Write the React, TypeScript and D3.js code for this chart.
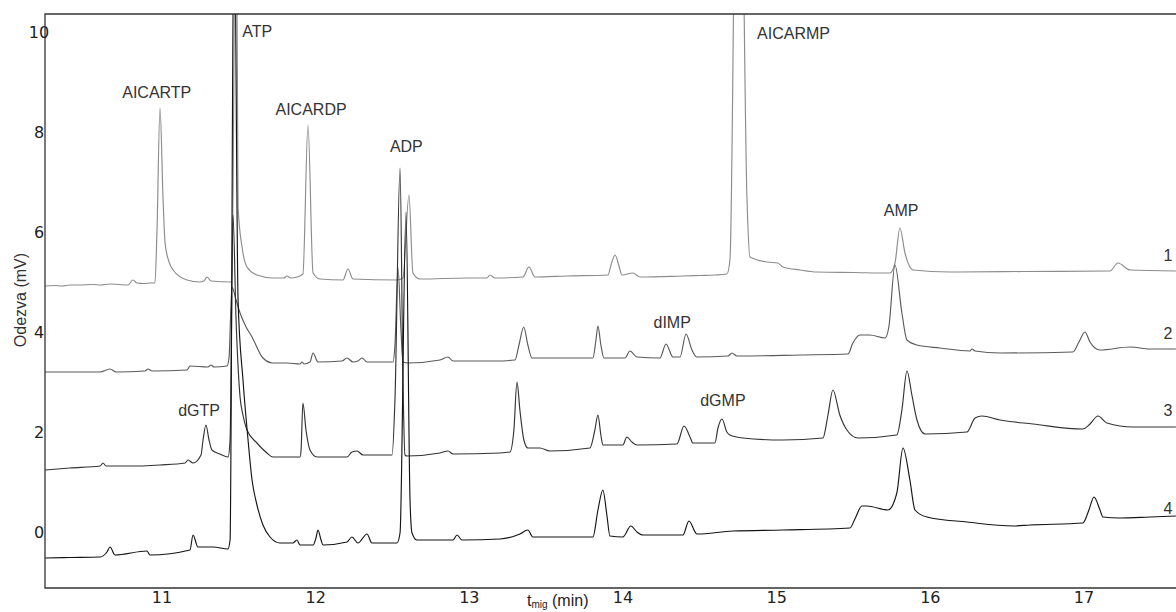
import React from "react";
import * as d3 from "d3";

type P = [number, number];

const trace1: P[] = [
  [10.239, 4.92], [10.3, 4.93], [10.35, 4.92], [10.4, 4.94], [10.466, 4.94], [10.55, 4.95], [10.6, 4.94], [10.662, 4.96], [10.72, 4.95], [10.779, 4.94], [10.811, 5.04], [10.837, 4.98],
  [10.88, 4.97], [10.92, 4.98], [10.954, 4.98], [10.967, 5.98], [10.987, 8.48], [11.007, 6.64], [11.02, 5.78], [11.046, 5.4],
  [11.072, 5.24], [11.163, 5.04], [11.247, 5.0], [11.273, 5.02], [11.293, 5.1], [11.319, 5.02], [11.455, 5.0],
  [11.482, 14], [11.495, 6.5], [11.521, 5.7], [11.553, 5.3], [11.618, 5.14], [11.722, 5.08], [11.794, 5.08],
  [11.813, 5.12], [11.839, 5.08], [11.878, 5.1], [11.917, 5.16], [11.95, 8.14], [11.983, 5.18], [12.028, 5.06],
  [12.178, 5.04], [12.21, 5.26], [12.243, 5.06], [12.529, 5.04], [12.568, 5.08], [12.607, 6.74], [12.633, 5.18],
  [12.679, 5.06], [12.985, 5.08], [13.115, 5.08], [13.134, 5.14], [13.167, 5.08], [13.349, 5.1], [13.388, 5.3],
  [13.427, 5.1], [13.635, 5.12], [13.902, 5.14], [13.922, 5.34], [13.948, 5.54], [13.974, 5.32], [13.993, 5.14],
  [14.065, 5.18], [14.11, 5.1], [14.39, 5.12], [14.5, 5.13], [14.6, 5.14], [14.676, 5.16], [14.696, 5.44], [14.751, 18], [14.807, 6.64],
  [14.826, 5.5], [14.937, 5.4], [15.008, 5.38], [15.041, 5.3], [15.152, 5.24], [15.262, 5.2], [15.5, 5.19], [15.737, 5.18],
  [15.77, 5.38], [15.802, 6.08], [15.835, 5.58], [15.887, 5.24], [16.128, 5.2], [16.6, 5.21], [17.169, 5.22], [17.221, 5.38],
  [17.299, 5.24], [17.598, 5.22],
];

const trace2: P[] = [
  [10.239, 3.2], [10.4, 3.2], [10.597, 3.2], [10.662, 3.26], [10.701, 3.2], [10.889, 3.22], [10.909, 3.26], [10.935, 3.22],
  [11.163, 3.24], [11.182, 3.32], [11.299, 3.3], [11.319, 3.34], [11.338, 3.3], [11.423, 3.32], [11.436, 3.48],
  [11.455, 4.9], [11.482, 4.64], [11.508, 4.38], [11.547, 4.1], [11.586, 3.9], [11.605, 3.78], [11.657, 3.48],
  [11.722, 3.38], [11.813, 3.38], [11.898, 3.36], [11.911, 3.4], [11.924, 3.36], [11.963, 3.4], [11.983, 3.58],
  [12.015, 3.4], [12.171, 3.42], [12.204, 3.48], [12.243, 3.4], [12.275, 3.42], [12.301, 3.48], [12.334, 3.4],
  [12.503, 3.4], [12.516, 3.74], [12.536, 5.28], [12.555, 4.04], [12.568, 3.4], [12.601, 3.38], [12.809, 3.44],
  [12.861, 3.5], [12.894, 3.42], [13.18, 3.42], [13.297, 3.44], [13.323, 3.74], [13.354, 4.1], [13.381, 3.74],
  [13.407, 3.48], [13.804, 3.48], [13.824, 3.84], [13.837, 4.12], [13.856, 3.74], [13.876, 3.48], [14.013, 3.48],
  [14.045, 3.62], [14.091, 3.5], [14.24, 3.48], [14.28, 3.76], [14.325, 3.5], [14.371, 3.5], [14.41, 3.96],
  [14.449, 3.64], [14.481, 3.5], [14.683, 3.52], [14.709, 3.58], [14.741, 3.52], [15.152, 3.54], [15.464, 3.56],
  [15.496, 3.78], [15.542, 3.94], [15.607, 3.94], [15.705, 3.88], [15.73, 4.1], [15.77, 5.34], [15.815, 4.38],
  [15.848, 3.84], [15.913, 3.74], [16.063, 3.68], [16.258, 3.62], [16.271, 3.66], [16.291, 3.62], [16.453, 3.58],
  [16.928, 3.6], [16.967, 3.8], [17.006, 4.0], [17.039, 3.8], [17.071, 3.68], [17.104, 3.64], [17.299, 3.7],
  [17.429, 3.66], [17.598, 3.66],
];

const trace3: P[] = [
  [10.239, 1.24], [10.4, 1.28], [10.597, 1.32], [10.616, 1.38], [10.636, 1.32], [10.857, 1.32], [10.987, 1.34],
  [11.15, 1.38], [11.169, 1.44], [11.202, 1.38], [11.254, 1.54], [11.267, 1.84], [11.286, 2.14], [11.306, 1.84],
  [11.325, 1.64], [11.377, 1.56], [11.43, 1.5], [11.443, 1.84], [11.462, 6.34], [11.482, 4.24], [11.508, 2.7],
  [11.527, 2.34], [11.553, 2.04], [11.618, 1.78], [11.683, 1.58], [11.722, 1.5], [11.813, 1.5], [11.898, 1.5],
  [11.905, 1.64], [11.917, 2.58], [11.937, 2.04], [11.963, 1.64], [12.009, 1.5], [12.204, 1.5], [12.236, 1.6],
  [12.269, 1.62], [12.308, 1.54], [12.497, 1.54], [12.516, 2.64], [12.549, 7.28], [12.568, 3.04], [12.581, 1.54],
  [12.594, 1.52], [12.809, 1.58], [12.861, 1.62], [12.894, 1.56], [13.199, 1.58], [13.264, 1.6], [13.29, 2.04],
  [13.31, 3.0], [13.329, 2.44], [13.355, 1.84], [13.381, 1.68], [13.459, 1.68], [13.524, 1.62], [13.785, 1.68],
  [13.817, 2.04], [13.837, 2.34], [13.856, 1.94], [13.869, 1.74], [13.999, 1.74], [14.025, 1.9], [14.058, 1.8],
  [14.091, 1.74], [14.351, 1.76], [14.397, 2.12], [14.436, 1.9], [14.455, 1.78], [14.598, 1.78], [14.618, 2.08],
  [14.644, 2.26], [14.676, 2.0], [14.696, 1.94], [14.78, 1.88], [15.041, 1.84], [15.301, 1.88], [15.334, 2.34],
  [15.366, 2.84], [15.411, 2.34], [15.457, 2.04], [15.529, 1.88], [15.782, 1.94], [15.815, 2.44], [15.848, 3.22],
  [15.88, 2.74], [15.913, 2.24], [15.965, 1.96], [16.238, 2.0], [16.291, 2.28], [16.336, 2.32], [16.453, 2.24],
  [16.668, 2.16], [16.993, 2.06], [17.039, 2.16], [17.091, 2.32], [17.149, 2.18], [17.318, 2.1], [17.598, 2.1],
];

const trace4: P[] = [
  [10.239, -0.52], [10.4, -0.51], [10.597, -0.5], [10.642, -0.4], [10.662, -0.3], [10.694, -0.46], [10.902, -0.38],
  [10.922, -0.46], [11.182, -0.36], [11.202, -0.06], [11.234, -0.3], [11.332, -0.3], [11.429, -0.34], [11.443, -0.16],
  [11.469, 13], [11.495, 4.64], [11.527, 3.04], [11.56, 1.84], [11.586, 1.04], [11.618, 0.54], [11.657, 0.14],
  [11.703, -0.1], [11.768, -0.22], [11.852, -0.22], [11.878, -0.16], [11.898, -0.26], [11.983, -0.26], [12.002, -0.12],
  [12.015, 0.04], [12.035, -0.16], [12.048, -0.26], [12.204, -0.2], [12.236, -0.1], [12.275, -0.22], [12.334, -0.04],
  [12.366, -0.22], [12.529, -0.22], [12.549, -0.02], [12.588, 6.4], [12.614, 0.64], [12.627, -0.02], [12.659, -0.16],
  [12.894, -0.16], [12.92, -0.06], [12.952, -0.16], [13.199, -0.14], [13.329, -0.04], [13.381, 0.04], [13.413, -0.1],
  [13.804, -0.1], [13.837, 0.44], [13.869, 0.84], [13.895, 0.34], [13.915, -0.08], [13.999, -0.1], [14.051, 0.12],
  [14.091, 0.0], [14.13, -0.06], [14.39, -0.06], [14.429, 0.22], [14.481, -0.04], [14.715, 0.02], [15.041, 0.04],
  [15.477, 0.08], [15.509, 0.26], [15.555, 0.52], [15.587, 0.52], [15.724, 0.44], [15.782, 0.78], [15.822, 1.68],
  [15.867, 1.04], [15.9, 0.44], [15.978, 0.3], [16.238, 0.2], [16.538, 0.12], [16.648, 0.14], [16.993, 0.18],
  [17.032, 0.44], [17.065, 0.7], [17.104, 0.44], [17.123, 0.3], [17.234, 0.28], [17.429, 0.3], [17.598, 0.32],
];

const traces = [trace1, trace2, trace3, trace4];
const traceNames = ["1", "2", "3", "4"];
const traceColors = ["#8c8c8c", "#5a5a5a", "#333333", "#141414"];
const traceLabelValues = [5.54, 3.98, 2.44, 0.48];

const peakNames = ["AICARTP", "ATP", "AICARDP", "ADP", "AICARMP", "AMP", "dIMP", "dGTP", "dGMP"];
const peakTimes = [10.966, 11.62, 11.97, 12.59, 15.11, 15.81, 14.32, 11.241, 14.65];
const peakValues = [8.8, 10.02, 8.46, 7.72, 9.98, 6.44, 4.2, 2.44, 2.64];

const xTicks = [11, 12, 13, 14, 15, 16, 17];
const yTicks = [0, 2, 4, 6, 8, 10];

export default function App() {
  const W = 1176, H = 612;
  const left = 45, top = 14, right = 1176, bottom = 588;
  const x = d3.scaleLinear().domain([11, 17]).range([162, 1084]);
  const y = d3.scaleLinear().domain([0, 10]).range([532, 32]);
  const line = d3.line<P>().x((d) => x(d[0])).y((d) => y(d[1])).curve(d3.curveMonotoneX);
  const font = "'Liberation Sans', Arial, sans-serif";
  const tickFont = "'DejaVu Sans', Verdana, sans-serif";

  return (
    <svg width={W} height={H} style={{ position: "absolute", left: 0, top: 0, background: "#fff" }}>
      <defs>
        <clipPath id="plotclip">
          <rect x={left} y={top} width={right - left} height={bottom - top} />
        </clipPath>
      </defs>
      <g clipPath="url(#plotclip)">
        {traces.map((t, i) => (
          <path key={i} d={line(t) || ""} fill="none" stroke={traceColors[i]} strokeWidth={1.15} strokeLinejoin="round" />
        ))}
      </g>
      <path d={`M${right},${top}H${left}V${bottom}H${right}`} fill="none" stroke="#333" strokeWidth={1.3} />
      {yTicks.map((v) => (
        <text key={v} x={39} y={y(v)} textAnchor="middle" dominantBaseline="central" fontFamily={tickFont} fontSize={16} fill="#222">
          {v}
        </text>
      ))}
      {xTicks.map((v) => (
        <text key={v} x={x(v)} y={597} textAnchor="middle" dominantBaseline="central" fontFamily={tickFont} fontSize={16} fill="#222">
          {v}
        </text>
      ))}
      <text x={527} y={606} fontFamily={font} fontSize={16} fill="#222">
        t<tspan fontSize={10} dy={2}>mig</tspan><tspan dy={-2}> (min)</tspan>
      </text>
      <text transform={`translate(20,${300}) rotate(-90)`} textAnchor="middle" dominantBaseline="central" fontFamily={font} fontSize={16} fill="#333">
        Odezva (mV)
      </text>
      {peakNames.map((n, i) => (
        <text key={n} x={x(peakTimes[i])} y={y(peakValues[i])} textAnchor="middle" dominantBaseline="central" fontFamily={font} fontSize={16} fill="#333">
          {n}
        </text>
      ))}
      {traceNames.map((n, i) => (
        <text key={n} x={1168} y={y(traceLabelValues[i])} textAnchor="middle" dominantBaseline="central" fontFamily={font} fontSize={16} fill="#333">
          {n}
        </text>
      ))}
    </svg>
  );
}
